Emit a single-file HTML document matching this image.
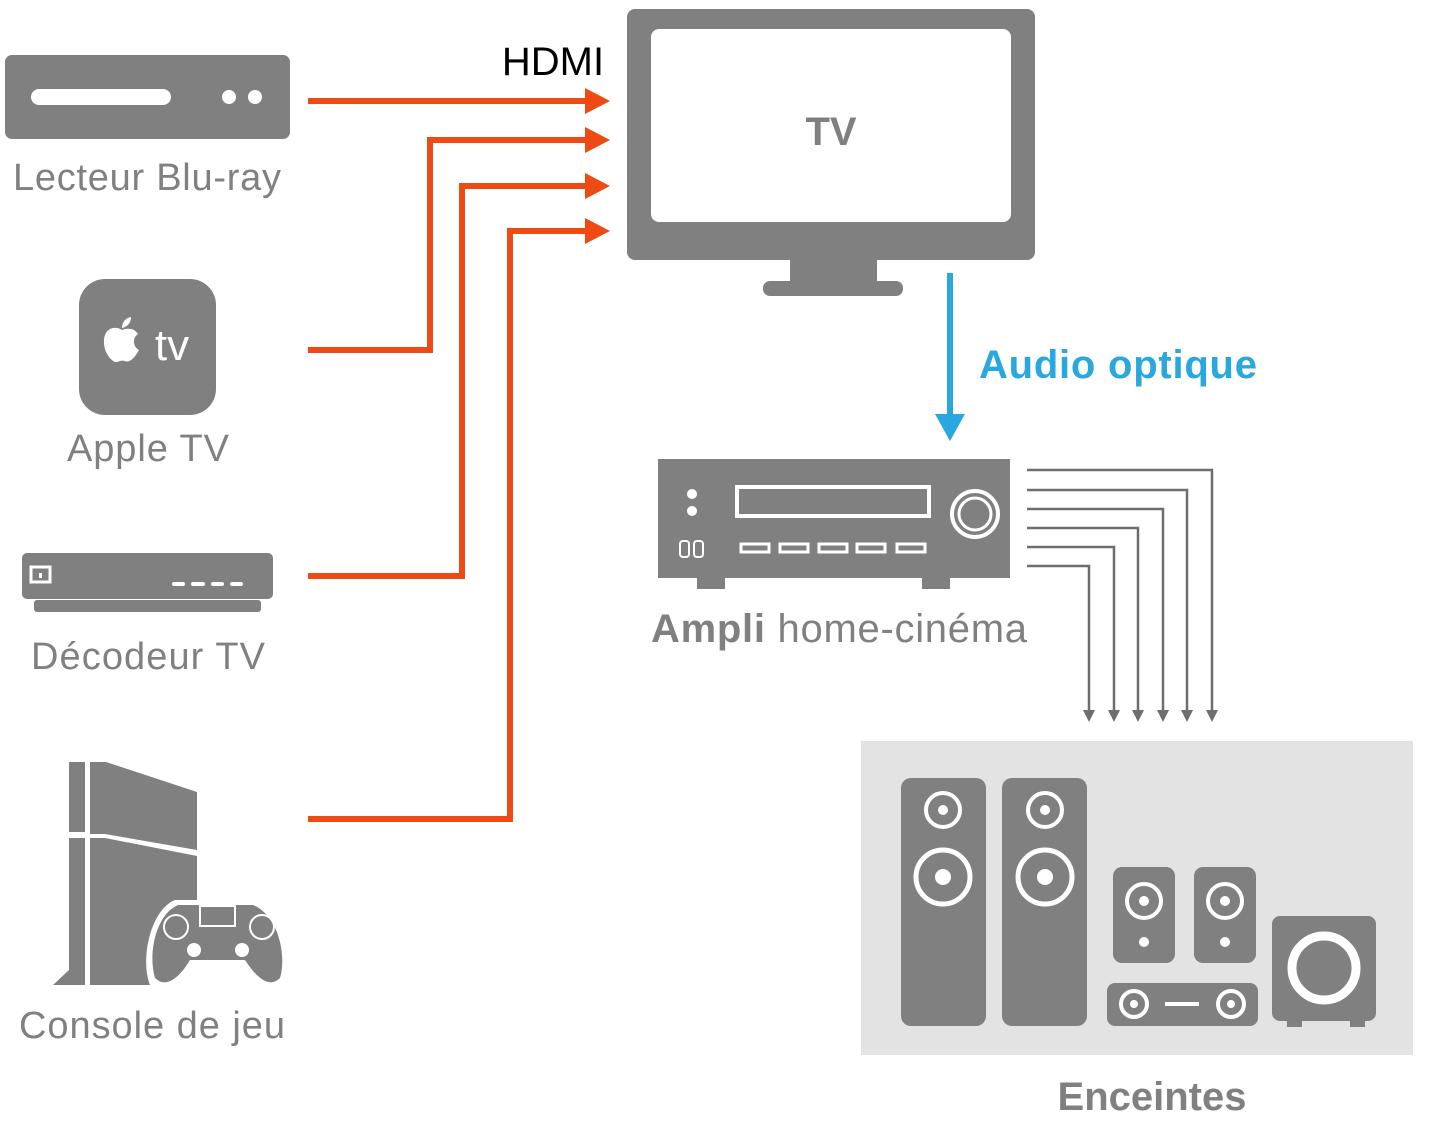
<!DOCTYPE html>
<html><head><meta charset="utf-8"><style>
html,body{margin:0;padding:0;background:#fff}
svg{display:block}
text{font-family:"Liberation Sans",sans-serif}
</style></head><body>
<svg width="1429" height="1128" viewBox="0 0 1429 1128" xmlns="http://www.w3.org/2000/svg">
<!-- Blu-ray -->
<rect x="5" y="55" width="285" height="84" rx="7" fill="#808080"/>
<rect x="31" y="89" width="140" height="16" rx="8" fill="#fff"/>
<circle cx="229" cy="97" r="7" fill="#fff"/><circle cx="255" cy="97" r="7" fill="#fff"/>
<text x="147" y="190" font-size="38" fill="#808080" text-anchor="middle" textLength="268">Lecteur Blu-ray</text>
<!-- Apple TV -->
<rect x="79" y="279" width="137" height="136" rx="26" fill="#808080"/>
<path d="M122,330 C116,326 105,327 104,340 C103,352 112,363 117,362 C120,361 122,360 125,361 C129,363 134,359 139,350 C133,347 132,338 138,334 C134,328 128,328 122,330 Z" fill="#fff"/>
<path d="M122,328 C122,322 126,318 131,317 C131,323 127,327 122,328 Z" fill="#fff"/>
<text x="172" y="360" font-size="44" fill="#fff" text-anchor="middle">tv</text>
<text x="148" y="461" font-size="38" fill="#808080" text-anchor="middle" textLength="162">Apple TV</text>
<!-- Decoder -->
<rect x="22" y="553" width="251" height="46" rx="5" fill="#808080"/>
<rect x="34" y="600" width="227" height="12" rx="3" fill="#808080"/>
<rect x="31" y="567" width="19" height="15" fill="none" stroke="#fff" stroke-width="3"/>
<rect x="39" y="573" width="3" height="5" fill="#fff"/>
<g stroke="#fff" stroke-width="4" stroke-linecap="round"><line x1="174" y1="584" x2="183" y2="584"/><line x1="193" y1="584" x2="203" y2="584"/><line x1="213" y1="584" x2="222" y2="584"/><line x1="232" y1="584" x2="241" y2="584"/></g>
<text x="148" y="669" font-size="38" fill="#808080" text-anchor="middle" textLength="234">Décodeur TV</text>
<!-- PS4 -->
<polygon points="69,762 85,762 85,832 69,832" fill="#808080"/>
<polygon points="90,762 106,762 197,792 197,850 105,834 90,834" fill="#808080"/>
<polygon points="69,838 85,838 85,985 53,985 69,970" fill="#808080"/>
<polygon points="90,838 105,838 197,856 197,985 90,985" fill="#808080"/>
<path d="M150,985 C140,960 150,910 175,900 L255,900 C285,910 295,960 285,985 Z" fill="#fff"/>
<path d="M155,978 C148,955 155,915 178,905 L253,905 C278,915 287,955 280,978 C270,988 258,980 245,960 L190,960 C178,980 165,988 155,978 Z" fill="#808080"/>
<rect x="200" y="906" width="35" height="20" fill="none" stroke="#fff" stroke-width="2"/>
<circle cx="176" cy="927" r="12" fill="none" stroke="#fff" stroke-width="2"/>
<circle cx="262" cy="927" r="12" fill="none" stroke="#fff" stroke-width="2"/>
<circle cx="194" cy="950" r="7" fill="#fff"/><circle cx="242" cy="950" r="7" fill="#fff"/>
<text x="152" y="1038" font-size="38" fill="#808080" text-anchor="middle" textLength="266">Console de jeu</text>
<!-- HDMI lines -->
<g fill="none" stroke="#ee4a13" stroke-width="6">
<path d="M308,101 H590"/>
<path d="M308,350 H430 V140 H590"/>
<path d="M308,576 H462 V186 H590"/>
<path d="M308,819 H510 V231 H590"/>
</g>
<g fill="#ee4a13">
<polygon points="585,88 610,101 585,114"/>
<polygon points="585,127 610,140 585,153"/>
<polygon points="585,173 610,186 585,199"/>
<polygon points="585,218 610,231 585,244"/>
</g>
<text x="553" y="75" font-size="40" fill="#000" text-anchor="middle">HDMI</text>
<!-- TV -->
<rect x="627" y="9" width="408" height="251" rx="8" fill="#808080"/>
<rect x="651" y="29" width="360" height="193" rx="8" fill="#fff"/>
<rect x="790" y="258" width="87" height="25" fill="#808080"/>
<rect x="763" y="281" width="140" height="15" rx="7" fill="#808080"/>
<text x="831" y="145" font-size="40" font-weight="bold" fill="#808080" text-anchor="middle">TV</text>
<!-- Audio optique -->
<line x1="950" y1="273" x2="950" y2="420" stroke="#29a8e0" stroke-width="6"/>
<polygon points="935,414 965,414 950,441" fill="#29a8e0"/>
<text x="979" y="378" font-size="40" font-weight="bold" fill="#29a8e0" textLength="278">Audio optique</text>
<!-- Ampli -->
<rect x="658" y="459" width="352" height="119" fill="#808080"/>
<rect x="697" y="576" width="28" height="13" fill="#808080"/>
<rect x="922" y="576" width="28" height="13" fill="#808080"/>
<circle cx="692" cy="494" r="5" fill="#fff"/><circle cx="692" cy="511" r="5" fill="#fff"/>
<rect x="737" y="487" width="192" height="29" fill="none" stroke="#fff" stroke-width="4"/>
<circle cx="975" cy="514" r="23" fill="none" stroke="#fff" stroke-width="4"/>
<circle cx="975" cy="514" r="16" fill="none" stroke="#fff" stroke-width="3"/>
<rect x="680" y="541" width="9" height="16" rx="3" fill="none" stroke="#fff" stroke-width="2"/>
<rect x="694" y="541" width="9" height="16" rx="3" fill="none" stroke="#fff" stroke-width="2"/>
<g fill="none" stroke="#fff" stroke-width="3">
<rect x="741" y="544" width="28" height="8"/><rect x="780" y="544" width="28" height="8"/><rect x="819" y="544" width="28" height="8"/><rect x="857" y="544" width="28" height="8"/><rect x="897" y="544" width="28" height="8"/>
</g>
<text x="651" y="642" font-size="40" fill="#808080" textLength="376"><tspan font-weight="bold">Ampli</tspan> home-cinéma</text>
<!-- speaker lines -->
<g fill="none" stroke="#6e6e6e" stroke-width="2.5">
<path d="M1027,470 H1212 V712"/>
<path d="M1027,490 H1187 V712"/>
<path d="M1027,509 H1163 V712"/>
<path d="M1027,528 H1138 V712"/>
<path d="M1027,547 H1114 V712"/>
<path d="M1027,566 H1089 V712"/>
</g>
<g fill="#6e6e6e">
<polygon points="1206,710 1218,710 1212,722"/><polygon points="1181,710 1193,710 1187,722"/><polygon points="1157,710 1169,710 1163,722"/><polygon points="1132,710 1144,710 1138,722"/><polygon points="1108,710 1120,710 1114,722"/><polygon points="1083,710 1095,710 1089,722"/>
</g>
<!-- Speakers -->
<rect x="861" y="741" width="552" height="314" fill="#e3e3e3"/>
<g fill="#808080">
<rect x="901" y="778" width="85" height="248" rx="10"/>
<rect x="1002" y="778" width="85" height="248" rx="10"/>
<rect x="1113" y="867" width="62" height="96" rx="9"/>
<rect x="1194" y="867" width="62" height="96" rx="9"/>
<rect x="1107" y="983" width="151" height="43" rx="8"/>
<rect x="1272" y="916" width="104" height="105" rx="8"/>
<rect x="1287" y="1018" width="15" height="9"/><rect x="1350" y="1018" width="15" height="9"/>
</g>
<g fill="none" stroke="#fff">
<circle cx="943" cy="810" r="17" stroke-width="4"/><circle cx="943" cy="877" r="27" stroke-width="5"/>
<circle cx="1045" cy="810" r="17" stroke-width="4"/><circle cx="1045" cy="877" r="27" stroke-width="5"/>
<circle cx="1144" cy="901" r="17" stroke-width="4"/><circle cx="1225" cy="901" r="17" stroke-width="4"/>
<circle cx="1134" cy="1004" r="13" stroke-width="4"/><circle cx="1231" cy="1004" r="13" stroke-width="4"/>
<circle cx="1324" cy="968" r="32" stroke-width="9"/>
</g>
<g fill="#fff">
<circle cx="943" cy="810" r="5"/><circle cx="943" cy="877" r="8"/>
<circle cx="1045" cy="810" r="5"/><circle cx="1045" cy="877" r="8"/>
<circle cx="1144" cy="901" r="5"/><circle cx="1225" cy="901" r="5"/>
<circle cx="1144" cy="942" r="5"/><circle cx="1225" cy="942" r="5"/>
<circle cx="1134" cy="1004" r="4"/><circle cx="1231" cy="1004" r="4"/>
<rect x="1165" y="1002" width="34" height="4"/>
</g>
<text x="1152" y="1110" font-size="40" font-weight="bold" fill="#808080" text-anchor="middle">Enceintes</text>
</svg>
</body></html>
